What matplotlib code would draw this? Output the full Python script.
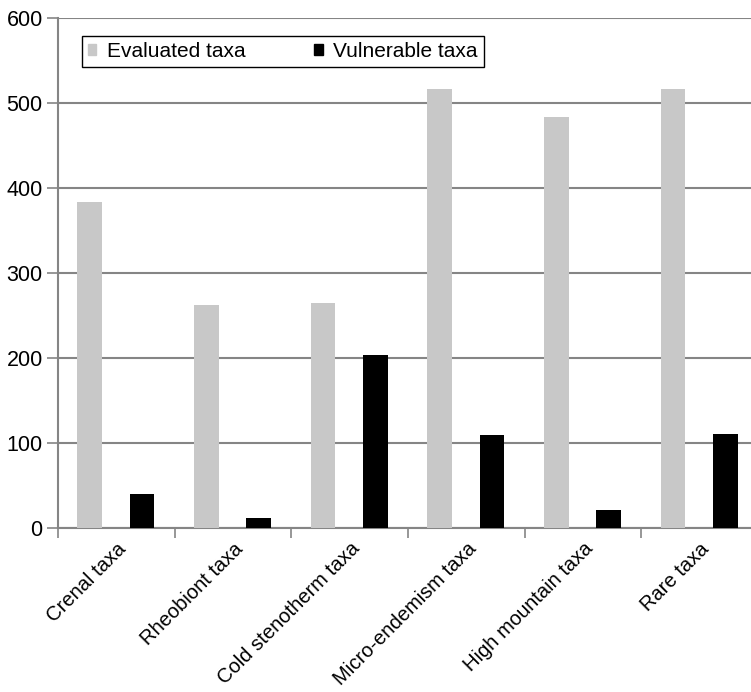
import numpy as np
import matplotlib
matplotlib.use("Agg")
import matplotlib.pyplot as plt
from matplotlib.patches import Patch

plt.rcParams['font.family'] = ['Liberation Sans', 'DejaVu Sans']

# data
categories = ["Crenal taxa", "Rheobiont taxa", "Cold stenotherm taxa",
              "Micro-endemism taxa", "High mountain taxa", "Rare taxa"]
evaluated = [383, 262, 265, 516, 483, 516]
vulnerable = [40, 12, 203, 109, 21, 111]
series_names = ["Evaluated taxa", "Vulnerable taxa"]
yticks = [0, 100, 200, 300, 400, 500, 600]

grey = "#c8c8c8"
line_grey = "#858585"

fig = plt.figure(figsize=(7.51, 6.92), dpi=100)
# axes runs a bit past the right edge, like the cropped original
ax = fig.add_axes([58 / 751, 1 - 528 / 692, 700 / 751, 510 / 692])

x = np.arange(len(categories))
w = 0.21
ax.bar(x + 0.272, evaluated, width=w, color=grey, zorder=3)
ax.bar(x + 0.72, vulnerable, width=w, color="black", zorder=3)

ax.set_xlim(0, len(categories))
ax.set_ylim(0, 600)

# y axis + gridlines
ax.set_yticks(yticks)
ax.yaxis.grid(True, color=line_grey, linewidth=1.5, zorder=0)
ax.tick_params(axis='y', length=8, width=1.2, color=line_grey,
               labelsize=15.5, pad=3)

# x ticks at category boundaries, labels at centres
ax.set_xticks(np.arange(len(categories) + 1))
ax.set_xticklabels([])
ax.set_xticks(x + 0.5, minor=True)
ax.set_xticklabels(categories, minor=True, rotation=45, ha='right',
                   rotation_mode='anchor', fontsize=14.5)
ax.tick_params(axis='x', which='major', length=7, width=1.2, color=line_grey)
ax.tick_params(axis='x', which='minor', length=0, pad=8)

for side in ['top', 'right']:
    ax.spines[side].set_visible(False)
for side in ['left', 'bottom']:
    ax.spines[side].set_color(line_grey)
    ax.spines[side].set_linewidth(1.5)

handles = [Patch(color=grey), Patch(color="black")]
leg = ax.legend(handles, series_names, ncol=2, loc='upper left',
                bbox_to_anchor=(0.034, 0.965), fontsize=15,
                handlelength=0.4, handleheight=0.4, handletextpad=0.5,
                columnspacing=3.3, borderpad=0.3, borderaxespad=0,
                fancybox=False, framealpha=1, edgecolor="black")
leg.get_frame().set_linewidth(1.0)
leg._legend_box.sep = 0

fig.savefig("out.png", dpi=100)
